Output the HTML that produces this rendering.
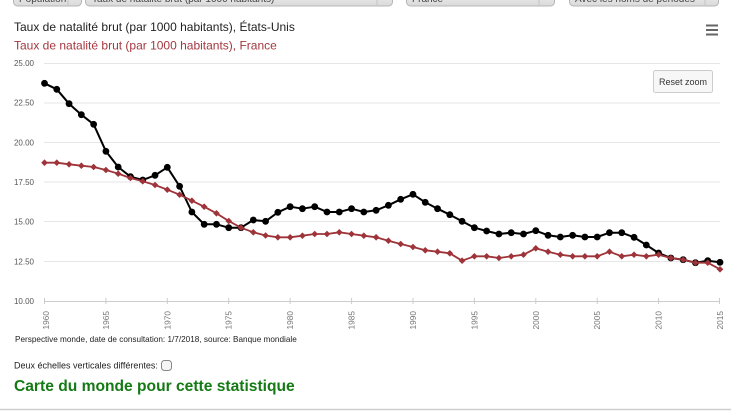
<!DOCTYPE html>
<html><head><meta charset="utf-8"><style>
html,body{margin:0;padding:0;background:#fff;width:731px;height:411px;overflow:hidden}
svg{display:block;font-family:"Liberation Sans",Arial,sans-serif}
</style></head><body>
<svg width="731" height="411" viewBox="0 0 731 411" xmlns="http://www.w3.org/2000/svg">
<defs>
<linearGradient id="sg" x1="0" y1="0" x2="0" y2="1"><stop offset="0" stop-color="#f4f4f4"/><stop offset="1" stop-color="#d9d9d9"/></linearGradient>
<marker id="c" markerUnits="userSpaceOnUse" markerWidth="10" markerHeight="10" refX="5" refY="5" overflow="visible"><circle cx="5" cy="5" r="3.4" fill="#000"/></marker>
<marker id="d" markerUnits="userSpaceOnUse" markerWidth="10" markerHeight="10" refX="5" refY="5" overflow="visible"><path d="M5 1.7 L8.3 5 L5 8.3 L1.7 5Z" fill="#9e3339"/></marker>
</defs>

<!-- top selects -->
<g stroke="#b5b5b5" stroke-width="1" fill="url(#sg)">
<rect x="13.5" y="-10" width="68" height="16" rx="4"/>
<rect x="85.5" y="-10" width="307" height="16" rx="4"/>
<rect x="406.5" y="-10" width="148" height="16" rx="4"/>
<rect x="569.5" y="-10" width="149" height="16" rx="4"/>
</g>
<g stroke="#c4c4c4"><line x1="68" y1="-8" x2="68" y2="5"/><line x1="377" y1="-8" x2="377" y2="5"/><line x1="539" y1="-8" x2="539" y2="5"/><line x1="705" y1="-8" x2="705" y2="5"/></g>
<g font-size="10" fill="#444">
<text x="19" y="2">Population</text>
<text x="92" y="2">Taux de natalité brut (par 1000 habitants)</text>
<text x="412" y="2">France</text>
<text x="575" y="2">Avec les noms de périodes</text>
</g>

<!-- titles -->
<text x="14" y="31" font-size="12" fill="#222">Taux de natalité brut (par 1000 habitants), États-Unis</text>
<text x="14" y="49.5" font-size="12" fill="#a3383e">Taux de natalité brut (par 1000 habitants), France</text>

<!-- menu icon -->
<g stroke="#666" stroke-width="2"><line x1="706" y1="25.5" x2="718" y2="25.5"/><line x1="706" y1="30" x2="718" y2="30"/><line x1="706" y1="34.5" x2="718" y2="34.5"/></g>

<!-- grid -->
<g stroke="#e6e6e6" stroke-width="1">
<line x1="44" y1="63.5" x2="720" y2="63.5"/>
<line x1="44" y1="103" x2="720" y2="103"/>
<line x1="44" y1="142.5" x2="720" y2="142.5"/>
<line x1="44" y1="182" x2="720" y2="182"/>
<line x1="44" y1="221.5" x2="720" y2="221.5"/>
<line x1="44" y1="261.5" x2="720" y2="261.5"/>
</g>
<line x1="44" y1="301.5" x2="720" y2="301.5" stroke="#ccc"/>
<g stroke="#ccc">
<line x1="44.5" y1="298" x2="44.5" y2="304"/><line x1="105.9" y1="298" x2="105.9" y2="304"/><line x1="167.3" y1="298" x2="167.3" y2="304"/><line x1="228.7" y1="298" x2="228.7" y2="304"/><line x1="290.1" y1="298" x2="290.1" y2="304"/><line x1="351.6" y1="298" x2="351.6" y2="304"/><line x1="413" y1="298" x2="413" y2="304"/><line x1="474.4" y1="298" x2="474.4" y2="304"/><line x1="535.8" y1="298" x2="535.8" y2="304"/><line x1="597.2" y1="298" x2="597.2" y2="304"/><line x1="658.6" y1="298" x2="658.6" y2="304"/><line x1="719.5" y1="298" x2="719.5" y2="304"/>
</g>

<!-- y labels -->
<g font-size="8" fill="#555" text-anchor="end">
<text x="34" y="66">25.00</text>
<text x="34" y="105.7">22.50</text>
<text x="34" y="145.3">20.00</text>
<text x="34" y="185">17.50</text>
<text x="34" y="224.7">15.00</text>
<text x="34" y="264.3">12.50</text>
<text x="34" y="304">10.00</text>
</g>

<!-- x labels -->
<g font-size="8.3" fill="#777" text-anchor="end">
<text transform="translate(49,311) rotate(-90)">1960</text>
<text transform="translate(108.9,311) rotate(-90)">1965</text>
<text transform="translate(170.3,311) rotate(-90)">1970</text>
<text transform="translate(231.7,311) rotate(-90)">1975</text>
<text transform="translate(293.1,311) rotate(-90)">1980</text>
<text transform="translate(354.6,311) rotate(-90)">1985</text>
<text transform="translate(416,311) rotate(-90)">1990</text>
<text transform="translate(477.4,311) rotate(-90)">1995</text>
<text transform="translate(538.8,311) rotate(-90)">2000</text>
<text transform="translate(600.2,311) rotate(-90)">2005</text>
<text transform="translate(661.6,311) rotate(-90)">2010</text>
<text transform="translate(723,311) rotate(-90)">2015</text>
</g>

<!-- US series -->
<polyline fill="none" stroke="#000" stroke-width="2" stroke-linejoin="round" marker-start="url(#c)" marker-mid="url(#c)" marker-end="url(#c)" points="44.5,83.3 56.78,89.3 69.06,103.7 81.35,114.7 93.63,124.3 105.91,151.3 118.19,167 130.47,176.7 142.76,180 155.04,175.3 167.32,167.3 179.6,186.3 191.88,212 204.17,224.3 216.45,224.3 228.73,227.7 241.01,227.7 253.29,220 265.58,221.3 277.86,212.3 290.14,206.7 302.42,208.7 314.7,206.7 326.99,212 339.27,212 351.55,208.7 363.83,212 376.11,210.3 388.4,205.3 400.68,199.3 412.96,194.3 425.24,202.3 437.52,208.7 449.81,214.7 462.09,221.3 474.37,227.7 486.65,231 498.93,234 511.22,232.7 523.5,234 535.78,230.7 548.06,235.3 560.34,237 572.63,235.3 584.91,237 597.19,237 609.47,232.7 621.75,232.7 634.04,237.3 646.32,245 658.6,253 670.88,258 683.16,259.7 695.45,262.7 707.73,260.7 720,262.3"/>

<!-- France series -->
<polyline fill="none" stroke="#9e3339" stroke-width="1.8" stroke-linejoin="round" marker-start="url(#d)" marker-mid="url(#d)" marker-end="url(#d)" points="44.5,162.7 56.78,162.7 69.06,164.3 81.35,165.7 93.63,167 105.91,170 118.19,173.7 130.47,178 142.76,181.3 155.04,185 167.32,189.7 179.6,194.7 191.88,200.7 204.17,206.7 216.45,213.3 228.73,221 241.01,227.7 253.29,232.3 265.58,235.5 277.86,237.3 290.14,237.3 302.42,235.7 314.7,234 326.99,234 339.27,232.3 351.55,234 363.83,235.7 376.11,237.3 388.4,240.7 400.68,244 412.96,247 425.24,250.3 437.52,251.7 449.81,253.3 462.09,260.7 474.37,256.3 486.65,256.3 498.93,258 511.22,256.3 523.5,254.7 535.78,248.3 548.06,251.7 560.34,254.7 572.63,256.3 584.91,256.3 597.19,256.3 609.47,251.7 621.75,256.3 634.04,254.7 646.32,256.3 658.6,254.7 670.88,258 683.16,259.7 695.45,262.7 707.73,262.7 720,269.3"/>

<!-- reset zoom -->
<rect x="653.5" y="70.5" width="59" height="22" rx="2" fill="#f7f7f7" stroke="#cccccc"/>
<text x="683" y="85" font-size="9" fill="#333" text-anchor="middle">Reset zoom</text>

<!-- footer -->
<text x="15" y="342" font-size="8.2" fill="#222">Perspective monde, date de consultation: 1/7/2018, source: Banque mondiale</text>
<text x="14" y="368.5" font-size="9" fill="#222">Deux échelles verticales différentes:</text>
<rect x="161.5" y="360.5" width="10" height="10" rx="3" fill="#f5f5f5" stroke="#888"/>
<text x="14" y="391" font-size="15.6" font-weight="bold" fill="#157a15">Carte du monde pour cette statistique</text>
<line x1="0" y1="409.5" x2="731" y2="409.5" stroke="#cfcfcf" stroke-width="1.5"/>
</svg>
</body></html>
